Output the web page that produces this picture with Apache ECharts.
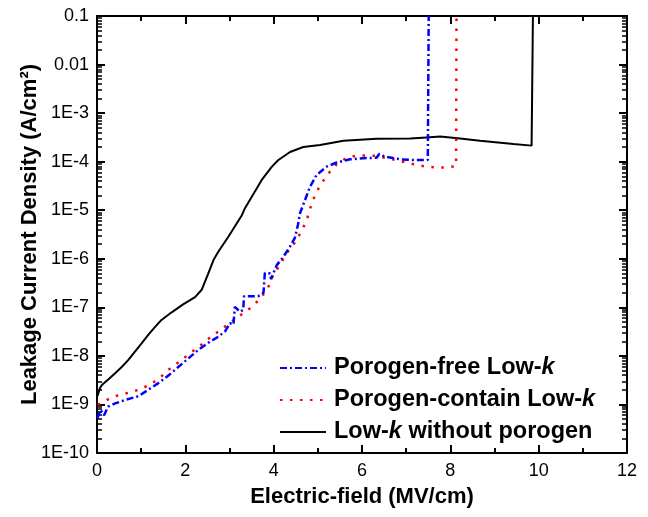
<!DOCTYPE html>
<html>
<head>
<meta charset="utf-8">
<script src="https://cdn.jsdelivr.net/npm/echarts@6/dist/echarts.min.js"></script>
<style>html,body{margin:0;padding:0;background:#fff}#c{width:648px;height:517px}</style>
</head>
<body>
<div id="c"></div>
<script>
// Variant A: full main chart, ticks on main axes, grid.outerBoundsMode none
const seriesNames = ['Porogen-free Low-k', 'Porogen-contain Low-k', 'Low-k without porogen'];
const xFree = [0.01,0.08,0.16,0.25,0.41,0.63,0.94,1.16,1.39,1.61,1.84,2.07,2.29,2.52,2.75,2.90,3.01,3.09,3.12,3.16,3.24,3.31,3.33,3.46,3.65,3.77,3.80,3.92,3.94,4.07,4.22,4.37,4.48,4.55,4.60,4.71,4.82,4.97,5.20,5.43,5.73,6.03,6.33,6.39,6.52,6.86,7.16,7.49,7.51];
const yFree = [5.2e-10,7.8e-10,6.0e-10,9.0e-10,1.05e-9,1.23e-9,1.48e-9,2.0e-9,2.75e-9,3.9e-9,5.9e-9,8.9e-9,1.32e-8,1.86e-8,2.5e-8,3.2e-8,4.7e-8,4.4e-8,1.02e-7,1.07e-7,8.1e-8,8.9e-8,1.7e-7,1.7e-7,1.7e-7,2.0e-7,5.1e-7,5.0e-7,3.8e-7,7.4e-7,1.1e-6,1.78e-6,2.7e-6,5.0e-6,8.9e-6,1.62e-5,3.0e-5,5.3e-5,7.9e-5,9.6e-5,1.12e-4,1.18e-4,1.2e-4,1.44e-4,1.27e-4,1.12e-4,1.08e-4,1.08e-4,0.1];
const xContain = [0.02,0.26,0.48,0.71,0.94,1.16,1.39,1.61,1.86,2.09,2.32,2.54,2.77,3.01,3.24,3.46,3.69,3.87,3.98,4.14,4.29,4.47,4.63,4.75,4.82,4.91,5.03,5.21,5.43,5.64,5.86,6.09,6.32,6.56,6.79,7.01,7.24,7.46,7.70,7.93,8.13,8.14];
const yContain = [9.8e-10,1.29e-9,1.55e-9,1.74e-9,2.0e-9,2.45e-9,3.3e-9,5.1e-9,7.6e-9,1.1e-8,1.58e-8,2.3e-8,3.3e-8,4.8e-8,6.8e-8,9.5e-8,1.48e-7,2.5e-7,4.5e-7,7.4e-7,1.29e-6,2.1e-6,3.7e-6,6.3e-6,1.05e-5,1.78e-5,3.0e-5,5.3e-5,8.9e-5,1.18e-4,1.32e-4,1.35e-4,1.32e-4,1.18e-4,1.07e-4,9.6e-5,8.5e-5,7.9e-5,7.6e-5,7.6e-5,8.1e-5,0.1];
const xWithout = [0.01,0.07,0.11,0.26,0.41,0.56,0.71,0.86,1.01,1.16,1.31,1.46,1.69,1.95,2.22,2.37,2.52,2.64,2.75,2.97,3.28,3.35,3.73,3.96,4.10,4.37,4.67,5.05,5.58,6.33,7.09,7.46,7.77,8.22,8.67,9.43,9.84,9.87];
const yWithout = [1.5e-9,2.2e-9,2.5e-9,3.3e-9,4.4e-9,5.9e-9,8.3e-9,1.23e-8,1.82e-8,2.7e-8,3.9e-8,5.5e-8,7.9e-8,1.15e-7,1.62e-7,2.3e-7,5.0e-7,9.5e-7,1.41e-6,2.8e-6,7.9e-6,1.1e-5,4.2e-5,7.9e-5,1.07e-4,1.58e-4,2.0e-4,2.2e-4,2.7e-4,2.95e-4,3.0e-4,3.16e-4,3.3e-4,3.0e-4,2.7e-4,2.3e-4,2.14e-4,0.1];
const yTickLabels = ['1E-10','1E-9','1E-8','1E-7','1E-6','1E-5','1E-4','1E-3','0.01','0.1'];
const yMinExp = -10, yMaxExp = -1;
const xMin = 0, xMax = 12, xStep = 2;
const zip = (xs, ys) => xs.map((x, i) => [x, ys[i]]);
const FONT = 'Liberation Sans, Arial, sans-serif';
function xAxisCfg(pos, labels) {
  return { type: 'value', min: xMin, max: xMax, interval: xStep, position: pos,
    axisLine: { show: true, onZero: false, lineStyle: { color: '#000', width: 2 } },
    axisTick: { show: true, inside: true, length: 8, lineStyle: { color: '#000', width: 2 } },
    minorTick: { show: true, splitNumber: 2, length: 5, lineStyle: { color: '#000', width: 2 } },
    axisLabel: labels ? { fontFamily: FONT, fontSize: 18, color: '#000', margin: 9 } : { show: false },
    splitLine: { show: false } };
}
function yAxisCfg(pos, labels) {
  return { type: 'log', min: 1e-10, max: 0.1, interval: 1, position: pos,
    axisLine: { show: true, onZero: false, lineStyle: { color: '#000', width: 2 } },
    axisTick: { show: true, inside: true, length: 8, lineStyle: { color: '#000', width: 2 } },
    minorTick: { show: true, splitNumber: 9, length: 5, lineStyle: { color: '#000', width: 1.5 } },
    axisLabel: labels ? { fontFamily: FONT, fontSize: 18, color: '#000', margin: 8,
      formatter: function (v) { const e = Math.round(Math.log10(v)); return yTickLabels[e - yMinExp] || ''; } } : { show: false },
    splitLine: { show: false } };
}
const xb = xAxisCfg('bottom', true);
xb.name = 'Electric-field (MV/cm)'; xb.nameLocation = 'middle'; xb.nameGap = 33; xb.nameMoveOverlap = false;
xb.nameTextStyle = { fontFamily: FONT, fontSize: 22, fontWeight: 'bold', color: '#000' };
const yl = yAxisCfg('left', true);
yl.name = 'Leakage Current Density (A/cm²)'; yl.nameLocation = 'middle'; yl.nameGap = 56; yl.nameMoveOverlap = false;
yl.nameTextStyle = { fontFamily: FONT, fontSize: 22, fontWeight: 'bold', color: '#000' };
const richText = { n: { fontFamily: FONT, fontWeight: 'bold', fontSize: 23.5, color: '#000' }, i: { fontFamily: FONT, fontWeight: 'bold', fontStyle: 'italic', fontSize: 23.5, color: '#000' } };
const chart = echarts.init(document.getElementById('c'));
chart.setOption({
  animation: false, backgroundColor: '#fff',
  grid: { left: 97, right: 21, top: 16, bottom: 64, containLabel: false, outerBoundsMode: 'none' },
  legend: { data: seriesNames, orient: 'vertical', left: 279, top: 355, padding: 0, itemWidth: 46, itemHeight: 12, itemGap: 6, itemStyle: { opacity: 0 },
    textStyle: { fontFamily: FONT, fontSize: 23.5, fontWeight: 'bold', color: '#000', lineHeight: 26, padding: [0, 0, 0, 3], rich: richText },
    formatter: function (name) {
      if (name === seriesNames[0]) return '{n|Porogen-free Low-}{i|k}';
      if (name === seriesNames[1]) return '{n|Porogen-contain Low-}{i|k}';
      return '{n|Low-}{i|k}{n| without porogen}'; } },
  xAxis: [xb, xAxisCfg('top', false)], yAxis: [yl, yAxisCfg('right', false)],
  series: [
    { name: seriesNames[0], type: 'line', data: zip(xFree, yFree), symbol: 'none', z: 4, lineStyle: { color: '#0000ff', width: 2.5, type: [7, 3, 2, 3] }, itemStyle: { color: '#0000ff' } },
    { name: seriesNames[1], type: 'line', data: zip(xContain, yContain), symbol: 'none', z: 3, lineStyle: { color: '#ff0000', width: 2.5, type: [2.5, 7.5] }, itemStyle: { color: '#ff0000' } },
    { name: seriesNames[2], type: 'line', data: zip(xWithout, yWithout), symbol: 'none', z: 2, lineStyle: { color: '#000000', width: 2 }, itemStyle: { color: '#000' } }
  ]
});
</script>
</body>
</html>
